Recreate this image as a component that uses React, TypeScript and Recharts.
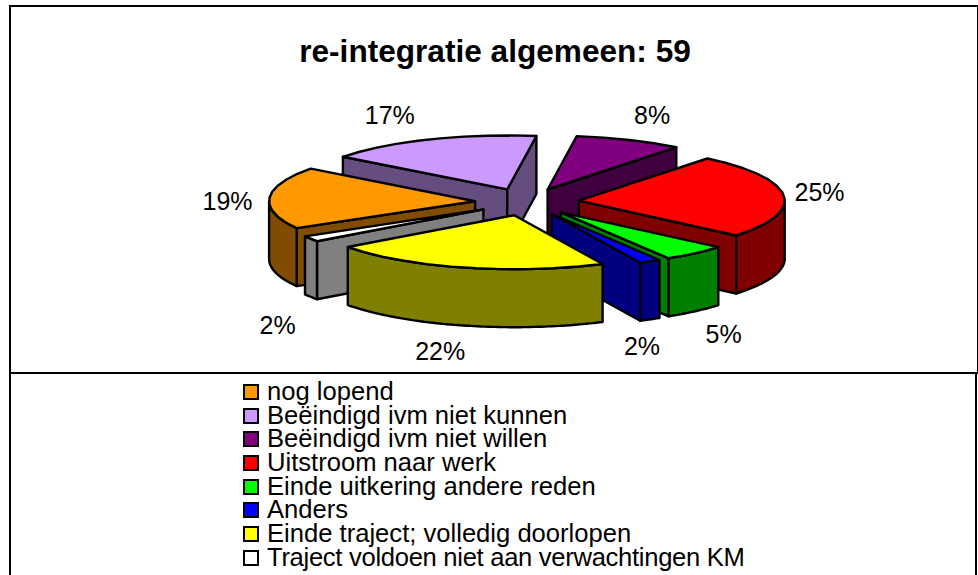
import React from 'react';
import { PieChart, Pie, Legend } from 'recharts';

// Counts per outcome (59 in total)
const CATEGORIES = [
  'nog lopend',
  'Beëindigd ivm niet kunnen',
  'Beëindigd ivm niet willen',
  'Uitstroom naar werk',
  'Einde uitkering andere reden',
  'Anders',
  'Einde traject; volledig doorlopen',
  'Traject voldoen niet aan verwachtingen KM',
];
const COUNTS = [11, 10, 5, 15, 3, 1, 13, 1];
const COLORS = ['#FF9900', '#CC99FF', '#800080', '#FF0000', '#00FF00', '#0000FF', '#FFFF00', '#FFFFFF'];
const WALLS = ['#804D00', '#664D80', '#400040', '#800000', '#008000', '#000080', '#808000', '#808080'];

// back-to-front painting order of the exploded slices
const DRAW_ORDER = [1, 2, 0, 3, 7, 4, 5, 6];
// small label corrections, same order as CATEGORIES
const LABEL_SHIFT_X = [0, -23, 6, -6, 1, -28, -13, 2];
const LABEL_SHIFT_Y = [5, 1, 0, -1, 2, 2, -1, 13];

const rows = CATEGORIES.map((name, i) => ({ name, value: COUNTS[i], fill: COLORS[i], wall: WALLS[i] }));

const CX = 527;
const CY = 202;
const RX = 206;
const TILT = 0.262;
const DEPTH = 58;
const EXPLODE = 52;
const ARC_STEP = 7;

const rad = (d: number) => (d * Math.PI) / 180;

// recharts angle (ccw from 3 o'clock) to a point on the tilted disc
const project = (ox: number, oy: number, r: number, angle: number) => ({
  x: ox + r * Math.cos(rad(angle)),
  y: oy - r * TILT * Math.sin(rad(angle)),
});

const pts = (list: { x: number; y: number }[]) => list.map((p) => `${p.x.toFixed(1)},${p.y.toFixed(1)}`).join(' ');

const Wedge3D = (props: any) => {
  const { cx, cy, outerRadius, startAngle, endAngle, fill, wall } = props;
  const mid = (startAngle + endAngle) / 2;
  const apex = project(cx, cy, EXPLODE, mid);

  const arc: { x: number; y: number }[] = [];
  const n = Math.max(1, Math.round(Math.abs(endAngle - startAngle) / ARC_STEP));
  for (let i = 0; i <= n; i++) {
    arc.push(project(apex.x, apex.y, outerRadius, startAngle + ((endAngle - startAngle) * i) / n));
  }
  const down = (p: { x: number; y: number }) => ({ x: p.x, y: p.y + DEPTH });

  // outer wall: only the stretch of rim on the viewer's side
  const front: { x: number; y: number }[] = [];
  const m = Math.ceil(Math.abs(endAngle - startAngle));
  for (let i = 0; i <= m; i += 1) {
    const a = startAngle + ((endAngle - startAngle) * i) / m;
    if (Math.sin(rad(a)) < 0) front.push(project(apex.x, apex.y, outerRadius, a));
  }

  const first = arc[0];
  const last = arc[arc.length - 1];
  const stroke = { stroke: '#000', strokeWidth: 2.4, strokeLinejoin: 'round' as const };

  return (
    <g>
      {Math.cos(rad(startAngle)) < 0 && <polygon points={pts([apex, first, down(first), down(apex)])} fill={wall} {...stroke} />}
      {Math.cos(rad(endAngle)) > 0 && <polygon points={pts([apex, last, down(last), down(apex)])} fill={wall} {...stroke} />}
      {front.length > 1 && <polygon points={pts([...front, ...front.slice().reverse().map(down)])} fill={wall} {...stroke} />}
      <polygon points={pts([apex, ...arc])} fill={fill} {...stroke} />
    </g>
  );
};

const renderLabel = (props: any) => {
  const { midAngle, percent, index } = props;
  const sin = Math.sin(rad(midAngle));
  const x = CX + 300 * Math.cos(rad(midAngle)) + LABEL_SHIFT_X[index];
  const y = CY - 95 * sin + (sin < 0 ? DEPTH : 0) + LABEL_SHIFT_Y[index];
  return (
    <text x={x} y={y} textAnchor="middle" dominantBaseline="central" fontFamily="Liberation Sans" fontSize={25} fill="#000">
      {Math.round(percent * 100)}%
    </text>
  );
};

const LegendList = () => (
  <div style={{ fontFamily: 'Liberation Sans', fontSize: 25.6, lineHeight: '23.7px', color: '#000' }}>
    {rows.map((entry, i) => (
      <div key={entry.name} style={{ display: 'flex', alignItems: 'center', height: 23.7, whiteSpace: 'nowrap', letterSpacing: i === 7 ? -0.3 : 0 }}>
        <span style={{ width: 12, height: 12, border: '2px solid #000', background: entry.fill, marginRight: 8, flex: 'none' }} />
        {entry.name}
      </div>
    ))}
  </div>
);

export default function App() {
  return (
    <div style={{ position: 'absolute', left: 0, top: 0, width: 978, height: 575, overflow: 'hidden', background: '#fff' }}>
      <div style={{ position: 'absolute', left: 9, top: 5, width: 966, height: 365, border: '2px solid #000' }} />
      <div style={{ position: 'absolute', left: 9, top: 373, width: 0, height: 202, borderLeft: '2px solid #000' }} />
      <div style={{ position: 'absolute', left: 975, top: 373, width: 0, height: 202, borderLeft: '2px solid #000' }} />
      <div style={{ position: 'absolute', left: 0, width: 990, top: 33, textAlign: 'center', fontFamily: 'Liberation Sans', fontWeight: 'bold', fontSize: 31.6, lineHeight: '36px', color: '#000' }}>
        re-integratie algemeen: 59
      </div>
      <PieChart width={978} height={575} margin={{ top: 0, right: 0, bottom: 0, left: 0 }} style={{ position: 'absolute', left: 0, top: 0 }}>
        {DRAW_ORDER.map((idx) => (
          <Pie
            key={idx}
            data={rows}
            dataKey="value"
            nameKey="name"
            cx={CX}
            cy={CY}
            outerRadius={RX}
            startAngle={-150}
            endAngle={-510}
            legendType="none"
            isAnimationActive={false}
            shape={(p: any) => (p.name === CATEGORIES[idx] ? <Wedge3D {...p} /> : <g />)}
          />
        ))}
        {/* empty top layer: carries the percent labels */}
        <Pie
          data={rows}
          dataKey="value"
          nameKey="name"
          cx={CX}
          cy={CY}
          outerRadius={RX}
          startAngle={-150}
          endAngle={-510}
          legendType="none"
          isAnimationActive={false}
          shape={() => <g />}
          label={renderLabel}
          labelLine={false}
        />
        <Legend content={LegendList as any} wrapperStyle={{ position: 'absolute', left: 243, top: 380, width: 620, bottom: 'auto' }} />
      </PieChart>
    </div>
  );
}
